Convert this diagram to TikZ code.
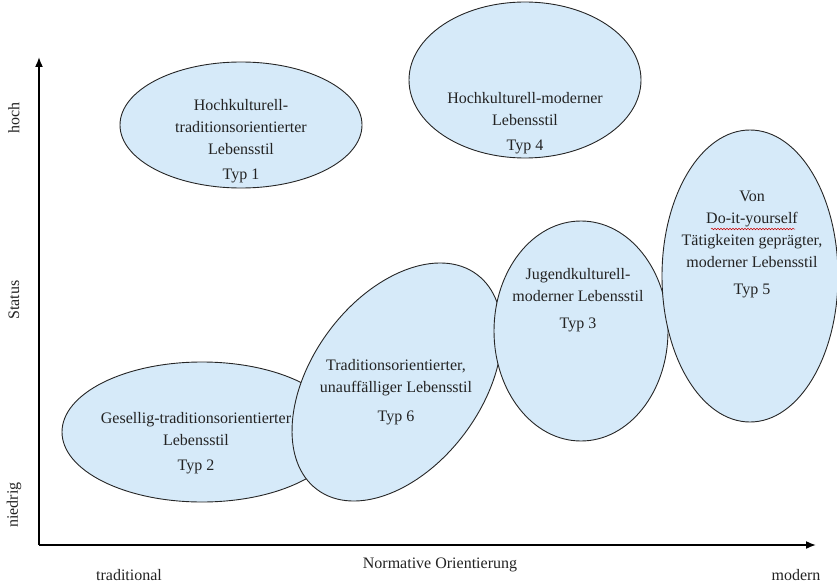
\documentclass[tikz,border=0pt]{standalone}
\usepackage{fontspec}
\setmainfont{Liberation Serif}
\usetikzlibrary{arrows.meta,decorations.pathmorphing}
\definecolor{bubble}{RGB}{214,234,249}
\definecolor{inkc}{RGB}{35,35,35}
\begin{document}
\begin{tikzpicture}[x=1pt,y=-1pt,
  bub/.style={fill=bubble,draw=black!85,line width=0.9pt},
  lbl/.style={align=center,text=inkc,font=\fontsize{16}{22}\selectfont,inner sep=0pt},
  axl/.style={text=inkc,font=\fontsize{16}{20}\selectfont,inner sep=0pt},
  axis/.style={line width=1.6pt,-{Latex[length=10pt,width=8pt]}}]
\useasboundingbox (0,0) rectangle (837,583);
% ellipses
\filldraw[bub] (241,125) ellipse [x radius=121, y radius=63];
\filldraw[bub] (525,80) ellipse [x radius=116, y radius=78];
\filldraw[bub] (202,432) ellipse [x radius=140, y radius=70];
\filldraw[bub,rotate around={53.5:(397,382)}] (397,382) ellipse [x radius=134, y radius=85];
\filldraw[bub] (581,331) ellipse [x radius=87, y radius=110];
\filldraw[bub] (750,276) ellipse [x radius=88, y radius=146];
% axes
\coordinate (O) at (39,545);
\coordinate (Ytop) at (39,57);
\coordinate (Xend) at (816,545);
\draw[axis] (O) -- (Ytop);
\draw[axis] (O) -- (Xend);
% labels in ellipses
\node[lbl] (t1) at (241,141) {Hochkulturell-\\traditionsorientierter\\Lebensstil\\[3pt]Typ 1};
\node[lbl] (t4) at (525,123) {Hochkulturell-moderner\\Lebensstil\\[3pt]Typ 4};
\node[lbl] (t5) at (752,244) {Von\\Do-it-yourself\\Tätigkeiten geprägter,\\moderner Lebensstil\\[5pt]Typ 5};
\node[lbl] (t3) at (578,300) {Jugendkulturell-\\moderner Lebensstil\\[5pt]Typ 3};
\node[lbl] (t6) at (396,392) {Traditionsorientierter,\\unauffälliger Lebensstil\\[7pt]Typ 6};
\node[lbl] (t2) at (196,443) {Gesellig-traditionsorientierter\\Lebensstil\\[3pt]Typ 2};
% spell-check underline
\draw[red!80!black,line width=0.5pt,decorate,decoration={snake,amplitude=0.8pt,segment length=3pt}] (711,229) -- (795,229);
% axis labels
\node[axl,rotate=90] (hoch) at (14,118) {hoch};
\node[axl,rotate=90] (status) at (14,300) {Status};
\node[axl,rotate=90] (niedrig) at (14,505) {niedrig};
\node[axl] (trad) at (129,575) {traditional};
\node[axl] (norm) at (440,565) {Normative Orientierung};
\node[axl] (mod) at (796,575) {modern};
\end{tikzpicture}
\end{document}
